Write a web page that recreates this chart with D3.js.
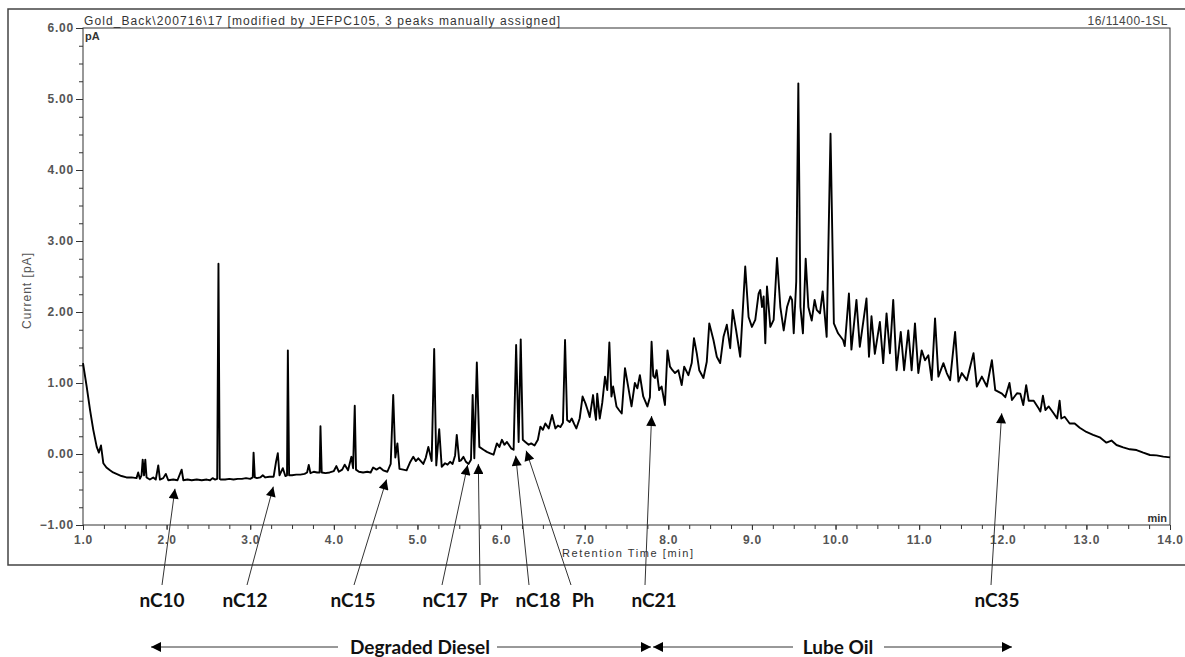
<!DOCTYPE html>
<html>
<head>
<meta charset="utf-8">
<script src="https://cdn.jsdelivr.net/npm/d3@7"></script>
<style>
  html, body { margin: 0; padding: 0; background: #fff; }
  svg { display: block; }
</style>
</head>
<body>
<div id="chart"></div>
<script>
const width = 1185;
const height = 657;

// retention time [min], current [pA]
const trace = [
  [1.00,1.28],[1.044,0.95],[1.084,0.62],[1.123,0.34],[1.164,0.10],[1.19,0.02],[1.215,0.12],[1.243,-0.13],
  [1.28,-0.19],[1.323,-0.23],[1.36,-0.26],[1.40,-0.28],[1.46,-0.31],[1.52,-0.33],[1.58,-0.33],[1.64,-0.34],
  [1.66,-0.26],[1.68,-0.35],[1.70,-0.30],[1.714,-0.08],[1.73,-0.30],[1.745,-0.08],[1.76,-0.33],[1.80,-0.36],
  [1.84,-0.33],[1.87,-0.36],[1.90,-0.16],[1.92,-0.36],[1.96,-0.34],[1.99,-0.28],[2.02,-0.37],[2.08,-0.36],
  [2.13,-0.37],[2.18,-0.22],[2.20,-0.37],[2.25,-0.36],[2.30,-0.37],[2.36,-0.36],[2.42,-0.37],[2.48,-0.36],
  [2.52,-0.37],[2.55,-0.34],[2.58,-0.36],[2.605,-0.35],[2.62,2.68],[2.635,-0.35],[2.65,-0.36],[2.70,-0.36],
  [2.75,-0.35],[2.80,-0.36],[2.85,-0.35],[2.90,-0.35],[2.95,-0.34],[3.00,-0.35],[3.03,-0.33],[3.04,0.02],
  [3.055,-0.33],[3.08,-0.34],[3.12,-0.33],[3.15,-0.30],[3.18,-0.33],[3.23,-0.32],[3.28,-0.32],[3.31,-0.10],
  [3.33,0.01],[3.35,-0.30],[3.39,-0.20],[3.42,-0.31],[3.44,-0.30],[3.45,1.46],[3.465,-0.30],[3.50,-0.30],
  [3.55,-0.29],[3.60,-0.29],[3.65,-0.28],[3.68,-0.26],[3.70,-0.155],[3.72,-0.27],[3.76,-0.25],[3.80,-0.26],
  [3.83,-0.26],[3.84,0.39],[3.855,-0.26],[3.90,-0.27],[3.95,-0.26],[4.00,-0.24],[4.03,-0.17],[4.06,-0.25],
  [4.10,-0.22],[4.13,-0.15],[4.17,-0.23],[4.21,-0.04],[4.23,-0.20],[4.25,0.68],[4.265,-0.22],[4.30,-0.25],
  [4.35,-0.26],[4.40,-0.25],[4.44,-0.26],[4.47,-0.19],[4.51,-0.22],[4.55,-0.19],[4.59,-0.23],[4.64,-0.25],
  [4.68,-0.14],[4.71,0.83],[4.735,-0.05],[4.76,0.15],[4.785,-0.21],[4.83,-0.22],[4.87,-0.23],[4.91,-0.12],
  [4.95,-0.04],[4.98,-0.10],[5.01,-0.06],[5.07,-0.14],[5.10,-0.05],[5.13,0.10],[5.17,-0.10],[5.20,1.48],
  [5.225,-0.16],[5.26,0.35],[5.29,-0.18],[5.33,-0.13],[5.36,-0.15],[5.39,-0.11],[5.42,-0.14],[5.45,-0.02],
  [5.47,0.27],[5.50,-0.10],[5.52,-0.09],[5.55,-0.04],[5.58,-0.11],[5.61,-0.14],[5.64,-0.08],[5.66,0.83],
  [5.68,-0.06],[5.71,1.29],[5.74,0.10],[5.79,0.06],[5.83,0.03],[5.87,0.01],[5.91,-0.01],[5.95,0.15],
  [5.98,0.10],[6.01,0.20],[6.04,0.13],[6.07,0.17],[6.12,0.08],[6.15,0.06],[6.18,1.535],[6.21,0.17],
  [6.235,1.615],[6.26,0.20],[6.29,0.17],[6.33,0.13],[6.36,0.15],[6.40,0.12],[6.44,0.20],[6.47,0.385],
  [6.50,0.34],[6.53,0.43],[6.57,0.36],[6.61,0.55],[6.65,0.36],[6.68,0.40],[6.71,0.38],[6.74,0.44],
  [6.765,1.605],[6.79,0.48],[6.82,0.45],[6.845,0.50],[6.875,0.42],[6.90,0.36],[6.94,0.50],[6.975,0.81],
  [7.01,0.71],[7.035,0.62],[7.06,0.52],[7.10,0.83],[7.12,0.60],[7.135,0.48],[7.15,0.85],[7.18,0.50],
  [7.21,0.72],[7.243,1.09],[7.27,0.90],[7.295,1.57],[7.32,0.81],[7.34,0.95],[7.38,0.67],[7.41,0.62],
  [7.443,0.57],[7.482,1.21],[7.52,0.95],[7.56,0.67],[7.60,1.00],[7.63,0.925],[7.66,1.11],[7.70,0.81],
  [7.75,0.67],[7.78,0.80],[7.80,1.58],[7.82,1.10],[7.84,1.07],[7.86,1.18],[7.89,0.90],[7.92,0.95],
  [7.96,0.69],[7.99,1.46],[8.02,1.23],[8.05,1.18],[8.08,1.14],[8.12,1.18],[8.16,0.97],[8.19,1.23],
  [8.24,1.11],[8.28,1.28],[8.307,1.63],[8.34,1.42],[8.37,1.18],[8.42,1.07],[8.46,1.30],[8.49,1.84],
  [8.54,1.605],[8.58,1.37],[8.62,1.28],[8.66,1.65],[8.70,1.82],[8.74,1.49],[8.77,2.03],[8.81,1.75],
  [8.86,1.37],[8.92,2.64],[8.96,1.93],[9.00,1.79],[9.04,1.89],[9.08,2.26],[9.10,2.31],[9.12,2.07],
  [9.14,2.22],[9.16,1.56],[9.18,2.36],[9.22,1.79],[9.26,1.89],[9.30,2.76],[9.34,2.07],[9.38,1.74],
  [9.42,2.07],[9.46,2.22],[9.48,2.17],[9.50,1.70],[9.53,2.43],[9.555,5.22],[9.58,2.07],[9.61,1.70],
  [9.643,2.75],[9.675,2.07],[9.715,1.88],[9.75,2.17],[9.775,2.03],[9.814,1.98],[9.846,2.29],[9.894,1.65],
  [9.94,4.51],[9.98,1.84],[10.03,1.70],[10.09,1.605],[10.11,1.52],[10.16,2.26],[10.19,1.47],[10.25,2.17],
  [10.29,1.51],[10.37,2.19],[10.40,1.37],[10.43,1.94],[10.47,1.41],[10.53,1.86],[10.57,1.28],[10.61,1.98],
  [10.65,1.42],[10.69,2.17],[10.73,1.18],[10.78,1.72],[10.82,1.18],[10.87,1.74],[10.91,1.18],[10.95,1.84],
  [10.99,1.14],[11.03,1.46],[11.07,1.32],[11.11,1.39],[11.15,1.04],[11.19,1.91],[11.23,1.09],[11.29,1.28],
  [11.33,1.14],[11.37,1.04],[11.43,1.72],[11.47,1.02],[11.51,1.14],[11.57,1.04],[11.65,1.42],[11.69,0.95],
  [11.75,1.09],[11.81,0.95],[11.87,1.32],[11.91,0.90],[11.99,0.85],[12.03,0.80],[12.08,1.00],[12.11,0.76],
  [12.17,0.855],[12.21,0.85],[12.245,0.69],[12.28,0.97],[12.31,0.75],[12.37,0.75],[12.43,0.64],[12.45,0.60],
  [12.48,0.82],[12.51,0.62],[12.55,0.67],[12.61,0.57],[12.65,0.50],[12.68,0.75],[12.70,0.50],[12.74,0.525],
  [12.80,0.43],[12.86,0.43],[12.92,0.37],[13.00,0.31],[13.08,0.27],[13.16,0.235],[13.24,0.16],[13.30,0.19],
  [13.36,0.127],[13.44,0.094],[13.52,0.066],[13.60,0.056],[13.68,0.019],[13.76,-0.014],[13.84,-0.02],
  [13.92,-0.037],[14.00,-0.047]
];

const x_ticks = d3.range(1, 14.001, 1);
const y_ticks = d3.range(-1, 6.001, 1);

// peak labels and where each arrow points (retention time, current)
const peak_names = ["nC10", "nC12", "nC15", "nC17", "Pr", "nC18", "Ph", "nC21", "nC35"];
const peak_tip_time = [2.10, 3.276, 4.63, 5.60, 5.728, 6.175, 6.30, 7.80, 11.987];
const peak_tip_value = [-0.49, -0.46, -0.36, -0.155, -0.14, -0.024, 0.046, 0.535, 0.573];

const region_names = ["Degraded Diesel", "Lube Oil"];

const title_left = "Gold_Back\\200716\\17 [modified by JEFPC105, 3 peaks manually assigned]";
const title_right = "16/11400-1SL";

// layout (pixels)
const plot = {left: 83, right: 1170, top: 28, bottom: 525};
const label_x = [162, 245, 353, 445, 489, 538, 583, 654, 997];
const tail_x = [162, 247, 354, 442, 480, 529, 571, 645, 991];
const region_span = [[151, 651, 420, 338, 497], [653, 1012, 838, 793, 884]];

const x = d3.scaleLinear([1, 14], [plot.left, plot.right]);
const y = d3.scaleLinear([-1, 6], [plot.bottom, plot.top]);

const svg = d3.select("#chart").append("svg")
    .attr("width", width)
    .attr("height", height)
    .attr("viewBox", [0, 0, width, height]);

svg.append("defs").append("marker")
    .attr("id", "head")
    .attr("viewBox", "0 0 10 10")
    .attr("refX", 10).attr("refY", 5)
    .attr("markerUnits", "userSpaceOnUse")
    .attr("markerWidth", 12).attr("markerHeight", 10)
    .attr("orient", "auto")
    .append("path")
    .attr("d", "M0,0L10,5L0,10Z")
    .attr("fill", "#000");

// outer frame
const frame = svg.append("g").attr("stroke", "#444").attr("stroke-width", 1.5).attr("fill", "none");
frame.append("path").attr("d", "M1185,9H8V565H1185");

// axes
const axis_font = g => g.selectAll("text")
    .attr("font-family", "Liberation Sans, Arial, sans-serif")
    .attr("font-size", 12)
    .attr("letter-spacing", 0.8)
    .attr("font-weight", "bold")
    .attr("fill", "#555");

svg.append("g")
    .attr("transform", `translate(0,${plot.bottom})`)
    .call(d3.axisBottom(x).tickValues(d3.range(1, 14.001, 0.25)).tickSize(4).tickFormat(""))
    .call(g => g.select(".domain").remove())
    .call(g => g.selectAll("line").attr("stroke", "#333"));

svg.append("g")
    .attr("transform", `translate(0,${plot.bottom})`)
    .call(d3.axisBottom(x).tickValues(x_ticks).tickSize(5).tickPadding(5).tickFormat(d3.format(".1f")))
    .call(g => g.select(".domain").remove())
    .call(g => g.selectAll("line").attr("stroke", "#333"))
    .call(axis_font);

svg.append("g")
    .attr("transform", `translate(${plot.left},0)`)
    .call(d3.axisLeft(y).tickValues(d3.range(-1, 6.001, 0.25)).tickSize(4).tickFormat(""))
    .call(g => g.select(".domain").remove())
    .call(g => g.selectAll("line").attr("stroke", "#333"));

svg.append("g")
    .attr("transform", `translate(${plot.left},0)`)
    .call(d3.axisLeft(y).tickValues(y_ticks).tickSize(7).tickPadding(2).tickFormat(d3.format(".2f")))
    .call(g => g.select(".domain").remove())
    .call(g => g.selectAll("line").attr("stroke", "#333"))
    .call(axis_font);

svg.append("rect")
    .attr("x", plot.left).attr("y", plot.top)
    .attr("width", plot.right - plot.left).attr("height", plot.bottom - plot.top)
    .attr("fill", "none").attr("stroke", "#333").attr("stroke-width", 1);

// chart texts
const small = sel => sel.attr("font-family", "Liberation Sans, Arial, sans-serif")
    .attr("font-size", 11).attr("fill", "#333");

svg.append("text").call(small)
    .attr("x", 84).attr("y", 25).attr("font-size", 12)
    .attr("textLength", 476).attr("lengthAdjust", "spacing")
    .text(title_left);

svg.append("text").call(small)
    .attr("x", 1168).attr("y", 25).attr("text-anchor", "end")
    .attr("font-size", 12).attr("letter-spacing", 0.5).attr("fill", "#444")
    .text(title_right);

svg.append("text").call(small)
    .attr("x", 85).attr("y", 40).attr("font-weight", "bold")
    .text("pA");

svg.append("text").call(small)
    .attr("x", 1167).attr("y", 522).attr("text-anchor", "end").attr("font-weight", "bold")
    .text("min");

svg.append("text").call(small)
    .attr("x", 562).attr("y", 557)
    .attr("textLength", 131).attr("lengthAdjust", "spacing")
    .text("Retention Time [min]");

svg.append("text").call(small)
    .attr("transform", "translate(31,291) rotate(-90)")
    .attr("text-anchor", "middle").attr("fill", "#555").attr("font-size", 12)
    .attr("textLength", 76).attr("lengthAdjust", "spacing")
    .text("Current [pA]");

// trace
const line = d3.line().x(d => x(d[0])).y(d => y(d[1]));

svg.append("path")
    .datum(trace)
    .attr("d", line)
    .attr("fill", "none")
    .attr("stroke", "#000")
    .attr("stroke-width", 1.9)
    .attr("stroke-linejoin", "round");

// peak annotations
const notes = svg.append("g");

notes.selectAll("line")
    .data(peak_names)
    .join("line")
    .attr("x1", (d, i) => tail_x[i])
    .attr("y1", 585)
    .attr("x2", (d, i) => x(peak_tip_time[i]))
    .attr("y2", (d, i) => y(peak_tip_value[i]))
    .attr("stroke", "#333")
    .attr("stroke-width", 1)
    .attr("marker-end", "url(#head)");

notes.selectAll("text")
    .data(peak_names)
    .join("text")
    .attr("x", (d, i) => label_x[i])
    .attr("y", 607)
    .attr("text-anchor", "middle")
    .attr("font-family", "Lato, Calibri, sans-serif")
    .attr("font-size", 19)
    .attr("font-weight", "bold")
    .attr("fill", "#111")
    .text(d => d);

// region arrows
const regions = svg.append("g");
region_names.forEach((name, i) => {
    const [x0, x1, cx, gap0, gap1] = region_span[i];
    const yy = 647;
    regions.append("line")
        .attr("x1", gap0).attr("y1", yy).attr("x2", x0).attr("y2", yy)
        .attr("stroke", "#333").attr("marker-end", "url(#head)");
    regions.append("line")
        .attr("x1", gap1).attr("y1", yy).attr("x2", x1).attr("y2", yy)
        .attr("stroke", "#333").attr("marker-end", "url(#head)");
    regions.append("text")
        .attr("x", cx).attr("y", yy + 7)
        .attr("text-anchor", "middle")
        .attr("font-family", "Lato, Calibri, sans-serif")
        .attr("font-size", 19)
        .attr("font-weight", "bold")
        .attr("fill", "#111")
        .text(name);
});
</script>
</body>
</html>
